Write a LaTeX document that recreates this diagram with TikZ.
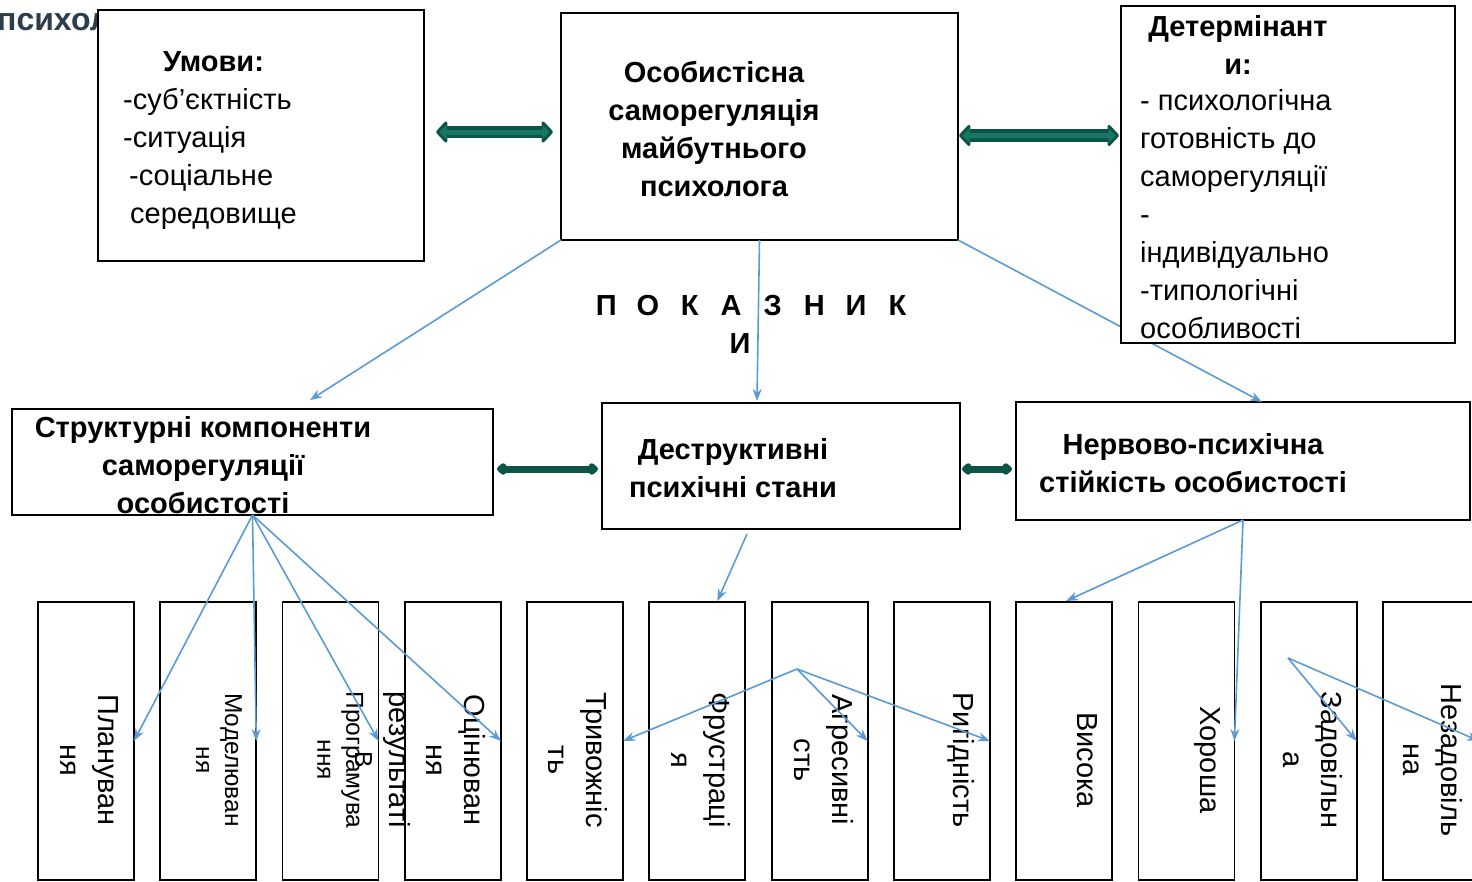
\documentclass[tikz,border=0pt]{standalone}
\usepackage{fontspec}
\setmainfont{Liberation Sans}
\usetikzlibrary{arrows.meta,fit,calc}
\definecolor{gdark}{HTML}{0A5548}
\definecolor{gmid}{HTML}{167763}
\definecolor{blu}{HTML}{5B9BD5}
\definecolor{titlec}{HTML}{2E3D4C}
\newcommand{\fsz}{\fontsize{29}{38}\selectfont}
\newcommand{\fsm}{\fontsize{24.5}{29}\selectfont}
\begin{document}
\begin{tikzpicture}[x=1pt,y=-1pt,
 box/.style={draw=black,line width=1.8pt,fill=white,inner sep=0pt,outer sep=0pt},
 txt/.style={inner sep=0pt,font=\fsz},
 btxt/.style={inner sep=0pt,font=\fsz\bfseries},
 vtxt/.style={inner sep=0pt,font=\fsz,rotate=-90,anchor=north,align=center},
 conn/.style={draw=blu,line width=1.6pt,-{Stealth[length=12pt,width=9pt]}},
 bigarr/.style={draw=gdark,line width=12.5pt,{Triangle[width=25pt,length=12pt,round]}-{Triangle[width=25pt,length=12pt,round]}},
 bigin/.style={draw=gmid,line width=5pt,shorten <=3.5pt,shorten >=3.5pt,{Triangle[width=14pt,length=7pt]}-{Triangle[width=14pt,length=7pt]}},
 smarr/.style={draw=gdark,line width=7pt,{Kite[length=13pt,width=14pt,inset=5pt,round]}-{Kite[length=13pt,width=14pt,inset=5pt,round]}}
]
\fill[white] (0,0) rectangle (1472,881);
\useasboundingbox (0,0) rectangle (1472,881);

% title fragment
\node[anchor=base west,inner sep=0pt,text=titlec,font=\fontsize{32}{36}\selectfont\bfseries] (frag) at (-3,30) {психол};

% boxes
\node[box,fit={(98,10) (424,261)}] (umovy) {};
\node[box,fit={(561,13) (958,240)}] (central) {};
\node[box,fit={(12,409) (493,515)}] (struct) {};
\node[box,fit={(602,403) (960,529)}] (destr) {};
\node[box,fit={(1016,402) (1470,520)}] (nerv) {};

% connector under the determinants box
\coordinate (e3) at (1262,402);
\draw[conn] (central.south east) -- (e3);
\node[box,fit={(1121,6) (1455,343)}] (determ) {};

\foreach \i in {0,...,11} {
  \node[box,minimum width=96pt,minimum height=278pt] (b\i) at ({86+122.27*\i},741) {};
}

% texts
\node[txt,align=left,anchor=north west] (umt) at (123,50.9) {\hspace*{40pt}\textbf{Умови:}\\-суб’єктність\\-ситуація\\\hspace*{6pt}-соціальне\\\hspace*{7pt}середовище};
\node[btxt,align=center,anchor=north] (cent) at (714,60.9) {Особистісна\\саморегуляція\\майбутнього\\психолога};
\node[btxt,align=center,anchor=north] (dett) at (1238,14.9) {Детермінант\\и:};
\node[txt,align=left,anchor=north west] (detb) at (1140,89.2) {- психологічна\\готовність до\\саморегуляції\\-\\індивідуально\\-типологічні\\особливості};
\node[btxt,align=center,anchor=north] (strt) at (203,415.9) {Структурні компоненти\\саморегуляції\\особистості};
\node[btxt,align=center,anchor=north] (dest) at (733,437.9) {Деструктивні\\психічні стани};
\node[btxt,align=center,anchor=north] (nert) at (1193,432.9) {Нервово-психічна\\стійкість особистості};
\node[btxt,anchor=base] (pok) at (752,315) {\makebox[41.6pt]{П}\makebox[41.6pt]{О}\makebox[41.6pt]{К}\makebox[41.6pt]{А}\makebox[41.6pt]{З}\makebox[41.6pt]{Н}\makebox[41.6pt]{И}\makebox[41.6pt]{К}};
\node[btxt,anchor=base] (pok2) at (740,353) {И};

% vertical texts
\node[vtxt] (t0) at ($(b0.center)+(33,19)$) {Плануван\\ня};
\node[vtxt,font=\fsm] (t1) at ($(b1.center)+(34,19)$) {Моделюван\\ня};
\node[vtxt,font=\fsm] (t2) at ($(b2.center)+(33,19)$) {Програмува\\ння};
\node[vtxt] (t3) at ($(b3.center)+(33,19)$) {Оцінюван\\ня};
\node[vtxt] (t4) at ($(b4.center)+(33,19)$) {Тривожніс\\ть};
\node[vtxt] (t5) at ($(b5.center)+(33,19)$) {Фрустраці\\я};
\node[vtxt] (t6) at ($(b6.center)+(34,19)$) {Агресивні\\сть};
\node[vtxt] (t7) at ($(b7.center)+(33,19)$) {Ригідність};
\node[vtxt] (t8) at ($(b8.center)+(33,19)$) {Висока};
\node[vtxt] (t9) at ($(b9.center)+(34,19)$) {Хороша};
\node[vtxt] (t10) at ($(b10.center)+(34,19)$) {Задовільн\\а};
\node[vtxt] (t11) at ($(b11.center)+(32,19)$) {Незадовіль\\на};
\node[inner sep=0pt,rotate=-90,anchor=base,font=\fsm] (vv) at (355,760) {В};
\node[inner sep=0pt,rotate=-90,anchor=base,font=\fsz] (rez) at (389,760) {результаті};

% green double arrows
\draw[bigarr] ($(umovy.east)+(12,-3.5)$) -- ($(central.west)+(-8,5.5)$);
\draw[bigin] ($(umovy.east)+(12,-3.5)$) -- ($(central.west)+(-8,5.5)$);
\draw[bigarr] ($(central.east)+(1,9)$) -- ($(determ.west)+(-2,-39)$);
\draw[bigin] ($(central.east)+(1,9)$) -- ($(determ.west)+(-2,-39)$);
\draw[smarr] ($(struct.east)+(4,7)$) -- ($(destr.west)+(-4,3)$);
\draw[smarr] ($(destr.east)+(2,3)$) -- ($(nerv.west)+(-4,8)$);

% blue connectors
\coordinate (e1) at (310,400);
\coordinate (e2) at (757,401);
\draw[conn] (central.south west) -- (e1);
\draw[conn] (central.south) -- (e2);
\foreach \k in {0,1,2,3} { \draw[conn] (struct.south) -- (b\k.east); }
\draw[conn] ($(destr.south)+(-34,5)$) -- ($(b5.north)+(20,-1)$);
\coordinate (f1) at (797,669);
\foreach \k in {4,6,7} { \draw[conn] (f1) -- (b\k.east); }
\draw[conn] (nerv.south) -- ($(b8.north)+(2,-1)$);
\draw[conn] (nerv.south) -- (b9.east);
\coordinate (f2) at (1288,658);
\foreach \k in {10,11} { \draw[conn] (f2) -- (b\k.east); }
\end{tikzpicture}
\end{document}
